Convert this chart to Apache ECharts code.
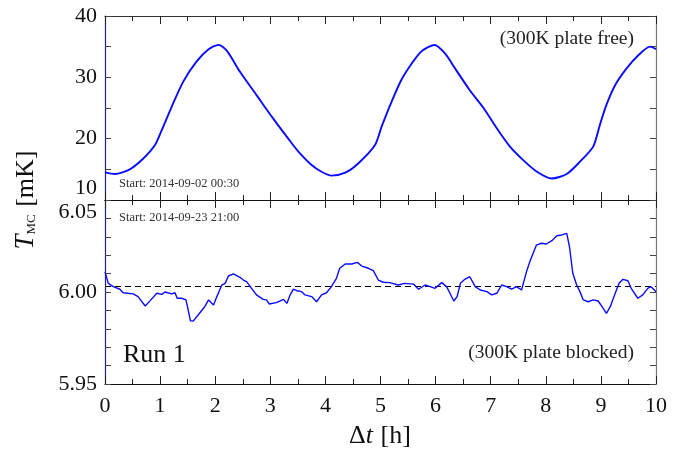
<!DOCTYPE html>
<html>
<head>
<meta charset="utf-8">
<script src="https://cdn.jsdelivr.net/npm/echarts@6/dist/echarts.min.js"></script>
<style>
html,body{margin:0;padding:0;background:#fff;}
#chart{width:680px;height:449px;}
</style>
</head>
<body>
<div id="chart"></div>
<script>
// ---- data ----
const tTop = [0, 0.18, 0.45, 0.7, 0.91, 1.03, 1.21, 1.42, 1.66, 1.88, 2.06, 2.21, 2.45, 2.75, 3.05, 3.36, 3.51, 3.75, 3.93, 4.11, 4.36, 4.6, 4.9, 5.02, 5.2, 5.38, 5.57, 5.75, 5.98, 6.17, 6.35, 6.62, 6.87, 7.11, 7.35, 7.59, 7.84, 8.11, 8.38, 8.62, 8.86, 8.98, 9.1, 9.26, 9.47, 9.68, 9.89, 10];
const vTop = [14.5, 14.24, 15.0, 16.8, 19.0, 21.4, 25.2, 29.3, 32.55, 34.57, 35.3, 34.35, 30.9, 27.1, 23.3, 19.6, 17.9, 15.7, 14.6, 13.97, 14.45, 16.0, 18.97, 21.95, 26.0, 29.6, 32.3, 34.3, 35.27, 33.9, 31.5, 27.9, 25.0, 21.7, 18.7, 16.5, 14.6, 13.5, 14.24, 16.25, 18.7, 22.2, 25.5, 28.75, 31.5, 33.6, 35.0, 34.6];

const tBot = [0, 0.06, 0.15, 0.27, 0.33, 0.51, 0.6, 0.73, 0.82, 0.94, 1.03, 1.09, 1.21, 1.27, 1.31, 1.39, 1.47, 1.51, 1.55, 1.6, 1.69, 1.81, 1.88, 1.97, 2.03, 2.12, 2.18, 2.24, 2.33, 2.45, 2.51, 2.57, 2.66, 2.75, 2.87, 2.93, 2.98, 3.11, 3.24, 3.3, 3.36, 3.42, 3.48, 3.57, 3.63, 3.75, 3.84, 3.93, 4.02, 4.11, 4.2, 4.26, 4.36, 4.48, 4.58, 4.66, 4.78, 4.87, 4.96, 5.05, 5.17, 5.32, 5.44, 5.6, 5.69, 5.81, 5.9, 5.99, 6.11, 6.2, 6.26, 6.33, 6.39, 6.45, 6.53, 6.62, 6.72, 6.81, 6.93, 7.02, 7.11, 7.2, 7.29, 7.38, 7.47, 7.56, 7.6, 7.66, 7.71, 7.77, 7.83, 7.92, 8.01, 8.11, 8.2, 8.29, 8.38, 8.43, 8.49, 8.56, 8.62, 8.68, 8.77, 8.86, 8.95, 9.03, 9.1, 9.17, 9.26, 9.33, 9.4, 9.49, 9.55, 9.67, 9.76, 9.85, 9.91, 10];
const vBot = [6.011, 6.0047, 6.0029, 6.0015, 5.9996, 5.999, 5.9975, 5.9924, 5.9953, 5.9993, 5.9987, 6.0, 5.999, 5.9996, 5.9966, 5.9966, 5.9957, 5.9902, 5.9844, 5.9842, 5.9875, 5.992, 5.9957, 5.9929, 5.9975, 6.0038, 6.0047, 6.0087, 6.0098, 6.008, 6.0065, 6.0056, 6.002, 5.9984, 5.996, 5.9957, 5.9935, 5.9942, 5.996, 5.9938, 5.9984, 6.0016, 6.0007, 6.0002, 5.9984, 5.9975, 5.9947, 5.9984, 5.9996, 6.0029, 6.0074, 6.0129, 6.0152, 6.0152, 6.0161, 6.0141, 6.0129, 6.0116, 6.0065, 6.0053, 6.0051, 6.0038, 6.0047, 6.0043, 6.0015, 6.0038, 6.0029, 6.002, 6.0051, 6.0029, 5.9993, 5.9951, 5.9975, 6.0047, 6.0069, 6.0083, 6.0029, 6.0011, 6.0002, 5.9984, 5.9993, 6.0038, 6.0029, 6.0015, 6.0029, 6.0011, 6.0056, 6.012, 6.0165, 6.021, 6.0255, 6.0265, 6.0261, 6.0279, 6.0306, 6.031, 6.0319, 6.0246, 6.0102, 6.0038, 6.0002, 5.9957, 5.9947, 5.9957, 5.9951, 5.9916, 5.9884, 5.992, 5.9993, 6.0047, 6.0069, 6.0061, 6.002, 5.9966, 5.9984, 6.002, 6.0029, 6.0002];

const refLevel = 6.003;
const xTicks = [0,1,2,3,4,5,6,7,8,9,10];
const topYTicks = [10, 20, 30, 40];
const botYTicks = [5.95, 6.00, 6.05];

// ---- chart ----
const FONT = 'Liberation Serif';
const BLUE = '#0a0aff';
const chart = echarts.init(document.getElementById('chart'));

function xAx(grid, pos, showLabel, color) {
  return {
    type: 'value', gridIndex: grid, position: pos,
    min: xTicks[0], max: xTicks[xTicks.length - 1], interval: 1,
    axisLine: { show: true, onZero: false, lineStyle: { color: color, width: 1.2 } },
    axisTick: { show: true, inside: true, length: 8, lineStyle: { color: '#222', width: 1 } },
    minorTick: { show: true, splitNumber: 2, length: 5, lineStyle: { color: '#222', width: 1 } },
    splitLine: { show: false },
    axisLabel: { show: showLabel, margin: 11, fontFamily: FONT, fontSize: 22, color: '#111' }
  };
}
function yAx(grid, pos, min, max, interval, minorSplit, showLabel, color, fmt) {
  return {
    type: 'value', gridIndex: grid, position: pos,
    min: min, max: max, interval: interval,
    axisLine: { show: true, onZero: false, lineStyle: { color: color, width: 1.2 } },
    axisTick: { show: true, inside: true, length: 6, lineStyle: { color: '#444', width: 1 } },
    minorTick: { show: true, splitNumber: minorSplit, length: 6, lineStyle: { color: '#444', width: 1 } },
    splitLine: { show: false },
    axisLabel: {
      show: showLabel, margin: 8, fontFamily: FONT, fontSize: 22, color: '#111',
      formatter: fmt,
      rich: {
        lo: { fontFamily: FONT, fontSize: 22, color: '#111', padding: [0, 0, 24, 0] },
        hi: { fontFamily: FONT, fontSize: 22, color: '#111', padding: [24, 0, 0, 0] }
      }
    }
  };
}

const topData = tTop.map((t, i) => [t, vTop[i]]);
const botData = tBot.map((t, i) => [t, vBot[i]]);
const refData = [[xTicks[0], refLevel], [xTicks[xTicks.length - 1], refLevel]];

const option = {
  animation: false,
  backgroundColor: '#fff',
  grid: [
    { left: 105, top: 16, width: 551, height: 184 },
    { left: 105, top: 200, width: 551, height: 184 }
  ],
  xAxis: [
    xAx(0, 'bottom', false, '#111'),
    xAx(0, 'top', false, '#333'),
    xAx(1, 'bottom', true, '#111'),
    xAx(1, 'top', false, '#111')
  ],
  yAxis: [
    yAx(0, 'left', topYTicks[0], topYTicks[topYTicks.length - 1], 10, 2, true, '#22229a',
        v => v === 10 ? '{lo|10}' : String(v)),
    yAx(0, 'right', topYTicks[0], topYTicks[topYTicks.length - 1], 10, 2, false, '#777', null),
    yAx(1, 'left', botYTicks[0], botYTicks[botYTicks.length - 1], 0.05, 5, true, '#22229a',
        v => Math.abs(v - 6.05) < 1e-6 ? '{hi|6.05}' : v.toFixed(2)),
    yAx(1, 'right', botYTicks[0], botYTicks[botYTicks.length - 1], 0.05, 5, false, '#777', null)
  ],
  series: [
    {
      type: 'line', xAxisIndex: 0, yAxisIndex: 0, data: topData,
      showSymbol: false, smooth: 0.25,
      lineStyle: { color: BLUE, width: 1.9 }
    },
    {
      type: 'line', xAxisIndex: 2, yAxisIndex: 2, data: refData,
      showSymbol: false, silent: true,
      lineStyle: { color: '#000', type: [6, 4], width: 1.2 }
    },
    {
      type: 'line', xAxisIndex: 2, yAxisIndex: 2, data: botData,
      showSymbol: false,
      lineStyle: { color: BLUE, width: 1.4 }
    }
  ],
  graphic: [
    { type: 'text', left: 119, top: 177,
      style: { text: 'Start: 2014-09-02 00:30', fontFamily: FONT, fontSize: 12.5, fill: '#333' } },
    { type: 'text', left: 119, top: 211,
      style: { text: 'Start: 2014-09-23 21:00', fontFamily: FONT, fontSize: 12.5, fill: '#333' } },
    { type: 'text', right: 46, top: 29,
      style: { text: '(300K plate free)', fontFamily: FONT, fontSize: 19.5, fill: '#222' } },
    { type: 'text', right: 46, top: 343,
      style: { text: '(300K plate blocked)', fontFamily: FONT, fontSize: 19.5, fill: '#222' } },
    { type: 'text', left: 123, top: 342,
      style: { text: 'Run 1', fontFamily: FONT, fontSize: 26, fill: '#111' } },
    { type: 'text', x: 380, y: 436,
      style: { text: '{d|Δ}{i|t}{d| [h]}', align: 'center', verticalAlign: 'middle',
        rich: {
          d: { fontFamily: FONT, fontSize: 26, fill: '#111' },
          i: { fontFamily: FONT, fontSize: 26, fontStyle: 'italic', fill: '#111', padding: [0, 1, 0, 0] }
        } } },
    { type: 'text', x: 26, y: 200, rotation: Math.PI / 2,
      style: { text: '{i|T}{s|MC}{d| [mK]}', align: 'center', verticalAlign: 'middle',
        rich: {
          i: { fontFamily: FONT, fontSize: 27, fontStyle: 'italic', fill: '#111' },
          s: { fontFamily: FONT, fontSize: 13, fill: '#111', padding: [12, 1, 0, 0] },
          d: { fontFamily: FONT, fontSize: 26, fill: '#111' }
        } } }
  ]
};
chart.setOption(option);
</script>
</body>
</html>
